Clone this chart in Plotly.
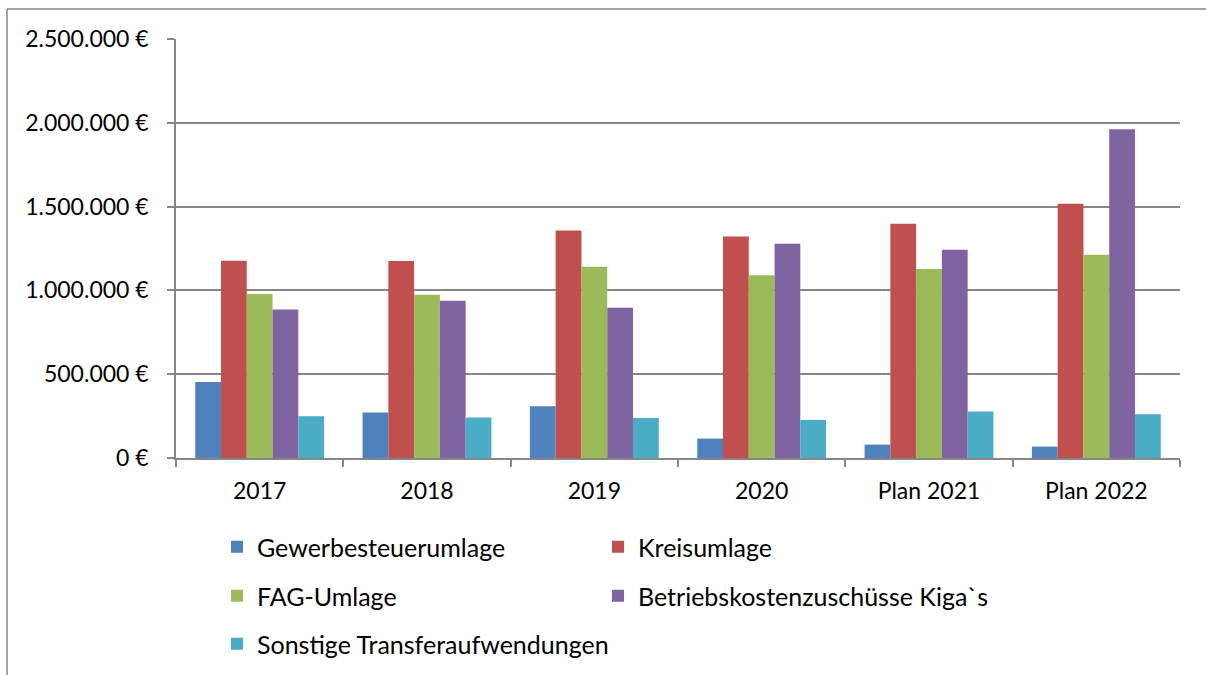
import plotly.graph_objects as go

categories = ["2017", "2018", "2019", "2020", "Plan 2021", "Plan 2022"]
gewerbesteuerumlage = [454000, 271000, 309000, 116000, 80000, 68000]
kreisumlage = [1177000, 1175000, 1358000, 1322000, 1398000, 1517000]
fag_umlage = [978000, 974000, 1141000, 1091000, 1127000, 1213000]
betriebskosten = [886000, 938000, 896000, 1278000, 1243000, 1962000]
sonstige = [249000, 241000, 239000, 227000, 277000, 261000]
y_tickvals = [0, 500000, 1000000, 1500000, 2000000, 2500000]
y_ticktext = ["0 €", "500.000 €", "1.000.000 €", "1.500.000 €", "2.000.000 €", "2.500.000 €"]

W, H = 1206, 675
L, R, T, B = 176, 26, 39, 217
pw, ph = W - L - R, H - T - B

def px2paper_x(x):
    return (x - L) / pw

def px2paper_y(y):
    return (H - B - y) / ph

# (name, values, colour, legend id, legend left px, legend row centre px)
series = [
    ("Gewerbesteuerumlage", gewerbesteuerumlage, "#4F81BD", "legend", 217, 547),
    ("Kreisumlage", kreisumlage, "#C0504D", "legend2", 598, 547),
    ("FAG-Umlage", fag_umlage, "#9BBB59", "legend3", 217, 596),
    ("Betriebskostenzuschüsse Kiga`s", betriebskosten, "#8064A2", "legend4", 598, 596),
    ("Sonstige Transferaufwendungen", sonstige, "#4BACC6", "legend5", 217, 644),
]

FONT = "Lato, 'Open Sans', sans-serif"
fig = go.Figure()
legends = {}
for name, vals, color, lg, lx, ly in series:
    fig.add_trace(go.Bar(x=categories, y=vals, name=name, marker_color=color,
                         marker_line_width=0, legend=lg))
    legends[lg] = dict(orientation="h",
                       font=dict(family=FONT, size=25, color="#000000"),
                       bgcolor="rgba(0,0,0,0)", xanchor="left", yanchor="middle",
                       itemclick=False, itemdoubleclick=False,
                       x=px2paper_x(lx), y=px2paper_y(ly))

fig.update_layout(
    width=W, height=H,
    margin=dict(l=L, r=R, t=T, b=B, autoexpand=False),
    paper_bgcolor="white", plot_bgcolor="white",
    barmode="group", bargap=0.23, bargroupgap=0,
    font=dict(family=FONT, size=23, color="#000000"),
    showlegend=True,
    xaxis=dict(showline=True, linecolor="#868686", linewidth=1.5,
               ticks="outside", tickson="boundaries", ticklen=7,
               tickcolor="#868686", tickwidth=1.5,
               ticklabelstandoff=12,
               tickfont=dict(family=FONT, size=23, color="#000000"),
               showgrid=False),
    yaxis=dict(range=[0, 2500000], tickvals=y_tickvals, ticktext=y_ticktext,
               showline=True, linecolor="#868686", linewidth=1.5,
               ticks="outside", ticklen=7, tickcolor="#868686", tickwidth=1.5,
               ticklabelstandoff=14,
               showgrid=True, gridcolor="#868686", gridwidth=1.5,
               zeroline=False,
               tickfont=dict(family=FONT, size=23, color="#000000")),
    **legends,
)

# outer chart frame (left and top edges visible)
frame_line = dict(color="#868686", width=1.5)
fig.add_shape(type="line", xref="paper", yref="paper",
              x0=px2paper_x(7), x1=px2paper_x(7),
              y0=px2paper_y(680), y1=px2paper_y(9), line=frame_line, layer="below")
fig.add_shape(type="line", xref="paper", yref="paper",
              x0=px2paper_x(7), x1=px2paper_x(1210),
              y0=px2paper_y(9), y1=px2paper_y(9), line=frame_line, layer="below")

fig.write_html("out.html", config={"displayModeBar": False},
               post_script="document.body.style.margin='0';document.body.style.overflow='hidden';")
